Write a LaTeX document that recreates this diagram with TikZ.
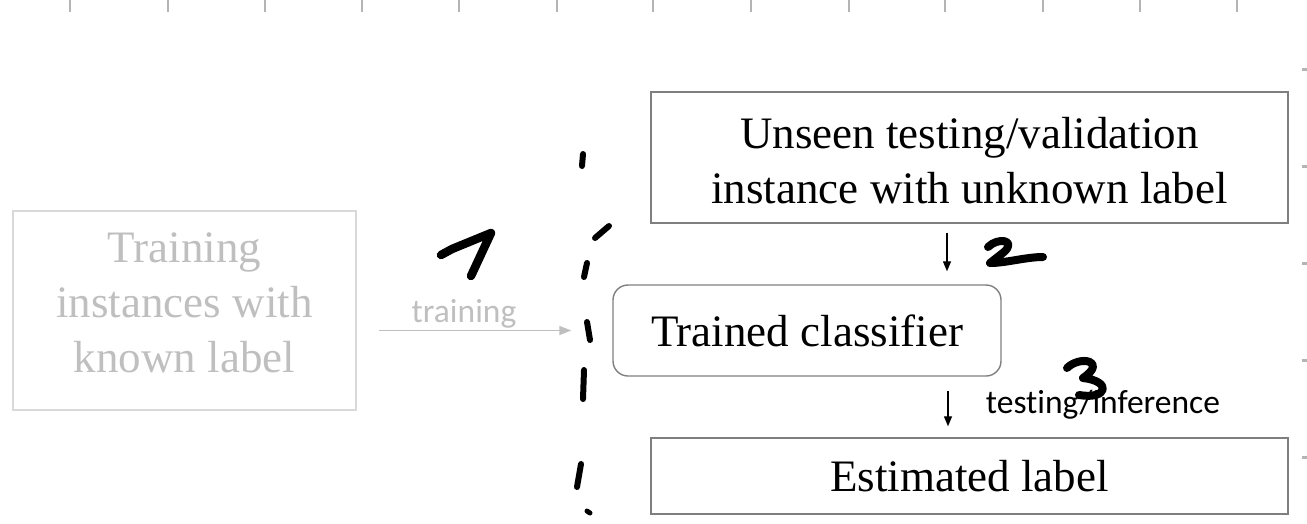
\documentclass[tikz,border=0pt]{standalone}
\usepackage{fontspec}
\setmainfont{Liberation Serif}
\newfontfamily\calfont[Ligatures=NoCommon]{Carlito}
\usetikzlibrary{arrows.meta,calc}
\definecolor{boxgray}{HTML}{7F7F7F}
\definecolor{lightbox}{HTML}{D9D9D9}
\definecolor{textgray}{HTML}{BFBFBF}
\definecolor{tickgray}{HTML}{B4B4B4}
\tikzset{
  box/.style={draw=boxgray, line width=1.4pt, inner sep=0pt, align=center,
    font=\fontsize{45}{55}\selectfont},
  btext/.style={inner sep=0pt, align=center, font=\fontsize{45}{55}\selectfont},
  darr/.style={line width=1.3pt, -{Triangle[length=10pt,width=8pt]}},
  garr/.style={draw=textgray, line width=1.5pt, -{Triangle[length=12pt,width=9pt]}},
  ink/.style={line width=7pt, line cap=round, line join=round},
  tickmark/.style={draw=tickgray, line width=2pt},
  lbl/.style={font=\calfont\fontsize{33.5}{40}\selectfont, inner sep=0pt, anchor=base}
}
\begin{document}
\begin{tikzpicture}[x=1pt,y=-1pt]
\useasboundingbox (0,0) rectangle (1307,523);
% ticks on top edge
\foreach \t in {70,168,265,362,459,557,653,751,849,945,1043,1140,1237}
  \draw[tickmark] (\t,0) -- (\t,12);
% ticks on right edge
\foreach \t in {69,166,263,360,457}
  \draw[tickmark, line width=3pt] (1302,\t) -- (1307,\t);

% boxes
\node[box, minimum width=637pt, minimum height=131pt] (top) at (969.5,157.5) {};
\node[btext] (toptext) at ($(top.center)+(0,3)$)
  {Unseen testing/validation\\instance with unknown label};
\node[box, rounded corners=15pt, minimum width=388pt, minimum height=91pt] (clf) at (807,330.5)
  {Trained classifier};
\node[box, minimum width=637pt, minimum height=76pt] (est) at (969.5,476)
  {Estimated label};
\node[box, draw=lightbox, minimum width=343pt, minimum height=199pt] (tr) at (184.5,310.5) {};
\node[btext, text=textgray] (trtext) at ($(tr.center)+(0,-8)$)
  {Training\\instances with\\known label};

% arrows
\draw[darr] ($(top.south)+(-22.5,9)$) -- ($(clf.north)+(140,-13)$);
\draw[darr] ($(clf.south)+(141,14)$) -- ($(est.north)+(-21.5,-11)$);
\draw[garr] ($(tr.east)+(22,20)$) coordinate (ga) -- ($(clf.west)+(-41,0)$) coordinate (gb);

% labels
\node[lbl, text=textgray] (tl) at (464,322) {training};
\node[lbl] (il) at (1103,413) {testing/inference};

% handwritten numbers
\draw[ink, line width=8.5pt] (441,255) -- (452,249) -- (491,233) -- (471,276);
\draw[ink, line width=8pt] (988,247) .. controls (998,237) and (1017,240) .. (1004,252) -- (990,263)
  .. controls (1006,263) and (1026,257) .. (1043,257);
\draw[ink, line width=8pt] (1067,368) .. controls (1080,355) and (1108,361) .. (1083,378)
  .. controls (1112,381) and (1108,400) .. (1079,395);

% hand-drawn dashed separator
\draw[ink, line width=6pt] (583,154) -- (582,166);
\draw[ink, line width=6pt] (609,226) -- (595,238);
\draw[ink, line width=6pt] (587,263) -- (584,277);
\draw[ink, line width=6pt] (587,322) -- (590,340);
\draw[ink, line width=6pt] (584,370) -- (583,399);
\draw[ink, line width=6pt] (581,464) -- (577,487);
\draw[ink, line width=5pt] (587,511) -- (590,513);
\end{tikzpicture}
\end{document}
